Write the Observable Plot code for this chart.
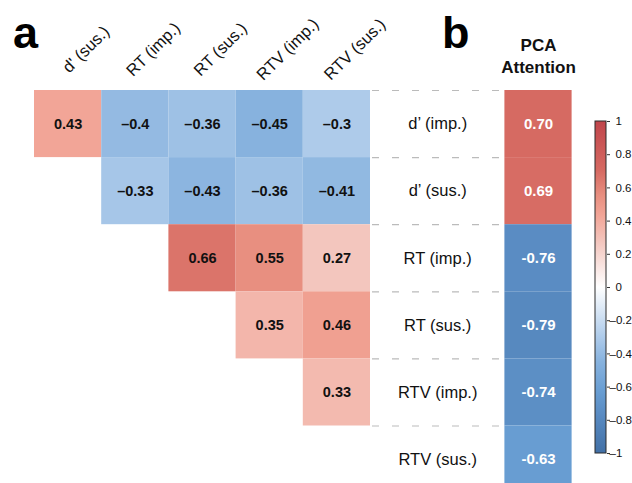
<!DOCTYPE html>
<html>
<head>
<meta charset="utf-8">
<script src="https://cdn.jsdelivr.net/npm/d3@7"></script>
<script src="https://cdn.jsdelivr.net/npm/@observablehq/plot@0.6"></script>
<style>
  html, body { margin: 0; padding: 0; background: #fff; }
  #wrap { position: relative; width: 632px; height: 483px; overflow: hidden; background: #fff; }
  #wrap svg { position: absolute; top: 0; }
</style>
</head>
<body>
<div id="wrap"></div>
<script>
// ---- data ----
const colLabels = ["d' (sus.)", "RT (imp.)", "RT (sus.)", "RTV (imp.)", "RTV (sus.)"];
const rowLabels = ["d’ (imp.)", "d’ (sus.)", "RT (imp.)", "RT (sus.)", "RTV (imp.)", "RTV (sus.)"];
// upper-triangle correlations, row i holds columns i..4
const corrRow1 = [0.43, -0.40, -0.36, -0.45, -0.30];
const corrRow2 = [-0.33, -0.43, -0.36, -0.41];
const corrRow3 = [0.66, 0.55, 0.27];
const corrRow4 = [0.35, 0.46];
const corrRow5 = [0.33];
const pcaValues = [0.70, 0.69, -0.76, -0.79, -0.74, -0.63];
const pcaTitle = "PCA\nAttention";
const colorbarTicksNeg = [-1, -0.8, -0.6, -0.4, -0.2];
const colorbarTicksPos = [0, 0.2, 0.4, 0.6, 0.8, 1];

// ---- colour scale (style) ----
const colorDomain = [-1, -0.76, -0.63, -0.45, -0.3, 0, 0.27, 0.43, 0.55, 0.7, 1];
const colorRange = ["#4270a6", "#5a8cc3", "#689dd2", "#87b2de", "#aecbea", "#ffffff",
                    "#f3c6be", "#f2a597", "#e88f80", "#d66a62", "#c0454b"];
const colorOpts = {type: "linear", domain: colorDomain, range: colorRange, interpolate: "rgb"};

const corrRows = [corrRow1, corrRow2, corrRow3, corrRow4, corrRow5];
const cellsA = [];
corrRows.forEach((vals, r) => vals.forEach((v, k) => cellsA.push({r, c: r + k, v})));
const cellsB = pcaValues.map((v, r) => ({r, v}));
const fmtA = v => String(+v.toFixed(2)).replace("-", "\u2013");
const fmtB = v => v.toFixed(2);
const font = "'Liberation Sans', Arial, Helvetica, sans-serif";

const main = Plot.plot({
  width: 632, height: 483,
  marginTop: 0, marginBottom: 0, marginLeft: 0, marginRight: 0,
  style: {fontFamily: font, background: "transparent", overflow: "visible"},
  x: {type: "linear", domain: [0, 8], range: [34, 571.6], axis: null},
  y: {type: "linear", domain: [0, 6], range: [90, 492.6], axis: null},
  color: colorOpts,
  marks: [
    Plot.rect(cellsA, {x1: d => d.c, x2: d => d.c + 1, y1: d => d.r, y2: d => d.r + 1, fill: "v"}),
    Plot.text(cellsA, {x: d => d.c + 0.5, y: d => d.r + 0.5, text: d => fmtA(d.v),
      fontWeight: "bold", fontSize: 14.5, fill: "#111"}),
    Plot.rect(cellsB, {x1: 7, x2: 8, y1: d => d.r, y2: d => d.r + 1, fill: "v"}),
    Plot.text(cellsB, {x: 7.5, y: d => d.r + 0.5, text: d => fmtB(d.v),
      fontWeight: "bold", fontSize: 15, fill: "white"}),
    Plot.ruleY(rowLabels.slice(0, 6), {y: (d, i) => i, x1: 5, x2: 7, stroke: "#bbb",
      strokeWidth: 1.2, strokeDasharray: "7,13", strokeDashoffset: -2}),
    Plot.text(rowLabels, {x: 6, y: (d, i) => i + 0.5, text: d => d, fontSize: 16.5, fill: "#111"}),
    Plot.text(colLabels, {x: (d, i) => i + 0.5, y: 0, dx: 18, dy: -41, rotate: -45,
      text: d => d, fontSize: 16.5, fill: "#111", textAnchor: "middle", lineAnchor: "middle"}),
    Plot.text([pcaTitle], {x: 7.5, y: 0, dy: -55, text: d => d, lineAnchor: "top",
      lineHeight: 1.3, fontSize: 17, fontWeight: "bold", fill: "#111"})
  ]
});
main.style.left = "0px";
const ms = d3.select(main);
ms.append("text").attr("x", 13).attr("y", 48).attr("font-size", 45).attr("font-weight", "bold")
  .attr("text-anchor", "start").attr("font-family", font).attr("fill", "#000").text("a");
ms.append("text").attr("x", 442).attr("y", 48).attr("font-size", 45).attr("font-weight", "bold")
  .attr("text-anchor", "start").attr("font-family", font).attr("fill", "#000").text("b");
document.getElementById("wrap").appendChild(main);

const tickFmt = v => v === 0 ? "0" : String(+v.toFixed(1)).replace("-", "\u2013");
const cb = Plot.plot({
  width: 52, height: 483,
  marginTop: 121, marginBottom: 30, marginLeft: 15, marginRight: 26,
  style: {fontFamily: font, background: "transparent", overflow: "visible"},
  x: {type: "linear", domain: [0, 1], axis: null},
  y: {type: "linear", domain: [-1, 1], axis: null},
  marks: [
    Plot.rect([0], {x1: 0, x2: 1, y1: -1, y2: 1, fill: "url(#cbgrad)", stroke: "#2b2b2b", strokeWidth: 1}),
    Plot.axisY(colorbarTicksNeg, {anchor: "right", tickSize: 3, tickPadding: 0, tickFormat: tickFmt,
      fontSize: 11.5, stroke: "#333", fill: "#111", label: null}),
    Plot.axisY(colorbarTicksPos, {anchor: "right", tickSize: 3, tickPadding: 6, tickFormat: tickFmt,
      fontSize: 11.5, stroke: "#333", fill: "#111", label: null})
  ]
});
cb.style.left = "580px";
const grad = d3.select(cb).insert("defs", ":first-child").append("linearGradient")
  .attr("id", "cbgrad").attr("x1", 0).attr("y1", 0).attr("x2", 0).attr("y2", 1);
colorDomain.slice().reverse().forEach(v => {
  const idx = colorDomain.indexOf(v);
  grad.append("stop").attr("offset", ((1 - v) / 2 * 100) + "%").attr("stop-color", colorRange[idx]);
});
document.getElementById("wrap").appendChild(cb);
</script>
</body>
</html>
